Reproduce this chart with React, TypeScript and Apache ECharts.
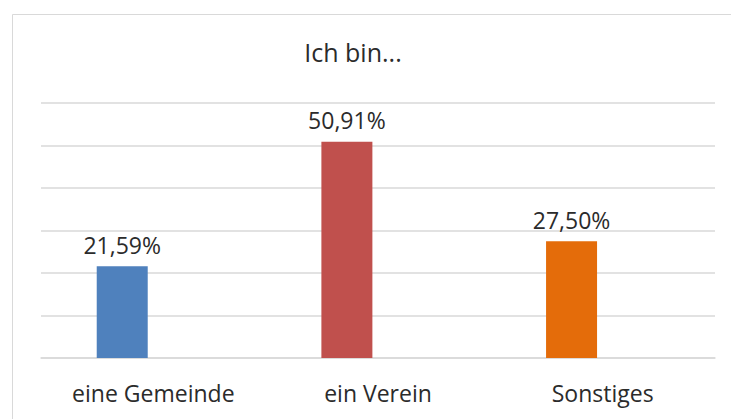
import React, { useEffect, useRef } from "react";
import * as echarts from "echarts";

const categories = ["eine Gemeinde", "ein Verein", "Sonstiges"];
const values = [21.59, 50.91, 27.5];
const barColors = ["#4F81BD", "#C0504D", "#E46C0A"];
const title = "Ich bin...";

export default function App() {
  const ref = useRef<HTMLDivElement>(null);
  useEffect(() => {
    if (!ref.current) return;
    const chart = echarts.init(ref.current, undefined, { renderer: "svg" });
    const font = "'Open Sans', 'Noto Sans', sans-serif";
    chart.setOption({
      animation: false,
      backgroundColor: "#ffffff",
      title: {
        text: title,
        left: 348,
        top: 34,
        textAlign: "center",
        textStyle: { fontFamily: font, fontSize: 25, fontWeight: "normal", color: "#2b2b2b" },
      },
      graphic: [
        {
          type: "rect",
          shape: { x: 12.5, y: 14.5, width: 800, height: 500 },
          style: { fill: "none", stroke: "#d9d9d9", lineWidth: 1 },
          silent: true,
        },
      ],
      grid: { left: 41, right: 16, top: 103, bottom: 61, containLabel: false },
      xAxis: {
        type: "category",
        data: categories,
        axisLine: { lineStyle: { color: "#d9d9d9", width: 1.5 } },
        axisTick: { show: false },
        axisLabel: { fontFamily: font, fontSize: 23, color: "#2b2b2b", margin: 23 },
      },
      yAxis: {
        type: "value",
        min: 0,
        max: 60,
        interval: 10,
        axisLabel: { show: false },
        axisLine: { show: false },
        axisTick: { show: false },
        splitLine: { lineStyle: { color: "#d9d9d9", width: 1.5 } },
      },
      series: [
        {
          type: "bar",
          barWidth: 51,
          barGap: "22%",
          data: values.map((v, i) => ({ value: v, itemStyle: { color: barColors[i] } })),
          label: {
            show: true,
            position: "top",
            distance: 10,
            fontFamily: font,
            fontSize: 23,
            color: "#2b2b2b",
            formatter: (p: any) => p.value.toFixed(2).replace(".", ",") + "%",
          },
        },
        {
          type: "bar",
          barWidth: 51,
          data: categories.map(() => "-"),
          silent: true,
        },
      ],
    });
    return () => chart.dispose();
  }, []);
  return (
    <div
      ref={ref}
      style={{ position: "absolute", left: 0, top: 0, width: 731, height: 419 }}
    />
  );
}
